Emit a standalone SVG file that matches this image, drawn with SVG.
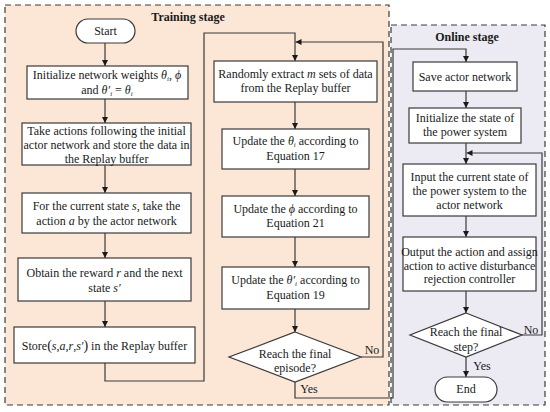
<svg xmlns="http://www.w3.org/2000/svg" width="550" height="412" viewBox="0 0 550 412">
<style>
text{font-family:"Liberation Serif","Times New Roman",serif;font-size:12px;fill:#1a1a1a;text-anchor:middle}
.t{font-weight:bold}
.i{font-style:italic}
.s{font-style:italic;font-size:7px}
.box{fill:#fff;stroke:#3a3a3a;stroke-width:1.2}
.c{fill:none;stroke:#3a3a3a;stroke-width:1.2}
.a{marker-end:url(#ah)}
</style>
<defs>
<marker id="ah" viewBox="0 0 10 10" refX="10" refY="5" markerWidth="6" markerHeight="6" markerUnits="userSpaceOnUse" orient="auto">
<path d="M0,0 L10,5 L0,10 z" fill="#1a1a1a"/>
</marker>
</defs>
<g id="stages">
<rect x="5" y="5" width="384" height="400" fill="#fce6d6" stroke="#3a3a3a" stroke-width="1.2" stroke-dasharray="6,4"/>
<rect x="391" y="25" width="154" height="380" fill="#eceaf2" stroke="#3a3a3a" stroke-width="1.2" stroke-dasharray="6,4"/>
<text class="t" x="188" y="21">Training stage</text>
<text class="t" x="467" y="41">Online stage</text>
</g>
<g id="connectors">
<path class="c a" d="M105,43 V66"/>
<path class="c a" d="M105,99 V123"/>
<path class="c a" d="M105,165 V193"/>
<path class="c a" d="M105,233 V258"/>
<path class="c a" d="M105,301 V327"/>
<path class="c a" d="M105,363 V381 H204 V33 H295 V61"/>
<path class="c a" d="M295,102 V129"/>
<path class="c a" d="M295,169 V196"/>
<path class="c a" d="M295,237 V267"/>
<path class="c a" d="M295,309 V332"/>
<path class="c a" d="M361,357 H383 V42 H295.5"/>
<path class="c a" d="M295,382 V398 H393 V49 H466 V62"/>
<path class="c a" d="M466,91 V108"/>
<path class="c a" d="M466,143 V164"/>
<path class="c a" d="M466,216 V237"/>
<path class="c a" d="M466,291 V313"/>
<path class="c a" d="M522,335 H542 V153 H466.5"/>
<path class="c a" d="M466,357 V377"/>
<text x="372" y="354">No</text>
<text x="309" y="393">Yes</text>
<text x="531" y="334">No</text>
<text x="482" y="370">Yes</text>
</g>
<g id="start">
<rect class="box" x="76" y="19" width="59" height="24" rx="12"/>
<text x="105.5" y="35">Start</text>
</g>
<g id="init-weights">
<rect class="box" x="27" y="66" width="161" height="33"/>
<text x="107" y="79">Initialize network weights <tspan class="i">θ</tspan><tspan class="s" dy="2">i</tspan><tspan dy="-2">, </tspan><tspan class="i">ϕ</tspan></text>
<text x="107" y="94">and <tspan class="i">θ′</tspan><tspan class="s" dy="2">i</tspan><tspan dy="-2"> = </tspan><tspan class="i">θ</tspan><tspan class="s" dy="2">i</tspan></text>
</g>
<g id="take-actions">
<rect class="box" x="22" y="123" width="169" height="42"/>
<text x="106.5" y="135">Take actions following the initial</text>
<text x="106.5" y="149">actor network and store the data in</text>
<text x="106.5" y="162.5">the Replay buffer</text>
</g>
<g id="current-state">
<rect class="box" x="22" y="193" width="169" height="40"/>
<text x="106.5" y="210">For the current state  <tspan class="i">s</tspan>, take the</text>
<text x="106.5" y="225">action <tspan class="i">a</tspan> by the actor network</text>
</g>
<g id="reward">
<rect class="box" x="18" y="258" width="173" height="43"/>
<text x="104.5" y="277">Obtain the reward  <tspan class="i">r</tspan>  and the next</text>
<text x="104.5" y="292">state  <tspan class="i">s′</tspan></text>
</g>
<g id="store">
<rect class="box" x="14" y="327" width="181" height="36"/>
<text x="104.5" y="350">Store<tspan font-size="14">(</tspan><tspan class="i">s</tspan>,<tspan class="i">a</tspan>,<tspan class="i">r</tspan>,<tspan class="i">s′</tspan><tspan font-size="14">)</tspan>  in the Replay buffer</text>
</g>
<g id="extract">
<rect class="box" x="214" y="61" width="163" height="41"/>
<text x="295.5" y="78">Randomly extract <tspan class="i">m</tspan> sets of data</text>
<text x="295.5" y="92">from the Replay buffer</text>
</g>
<g id="update-theta">
<rect class="box" x="222" y="129" width="147" height="40"/>
<text x="295.5" y="145">Update the <tspan class="i">θ</tspan><tspan class="s" dy="2">i</tspan><tspan dy="-2">  according to</tspan></text>
<text x="295.5" y="160">Equation 17</text>
</g>
<g id="update-phi">
<rect class="box" x="222" y="196" width="147" height="41"/>
<text x="295.5" y="213">Update the <tspan class="i">ϕ</tspan>  according to</text>
<text x="295.5" y="227">Equation 21</text>
</g>
<g id="update-theta-prime">
<rect class="box" x="222" y="267" width="147" height="42"/>
<text x="295.5" y="284">Update the <tspan class="i">θ′</tspan><tspan class="s" dy="2">i</tspan><tspan dy="-2">  according to</tspan></text>
<text x="295.5" y="299">Equation 19</text>
</g>
<g id="final-episode">
<path class="box" d="M295,332 L361,357 L295,382 L229,357 Z"/>
<text x="295" y="358">Reach the final</text>
<text x="295" y="372">episode?</text>
</g>
<g id="save">
<rect class="box" x="413" y="62" width="104" height="29"/>
<text x="465" y="81">Save actor network</text>
</g>
<g id="init-state">
<rect class="box" x="409" y="108" width="112" height="35"/>
<text x="465" y="122">Initialize the state of</text>
<text x="465" y="136">the power system</text>
</g>
<g id="input">
<rect class="box" x="403" y="164" width="133" height="52"/>
<text x="469.5" y="181">Input the current state of</text>
<text x="469.5" y="195">the power system to the</text>
<text x="469.5" y="208.5">actor network</text>
</g>
<g id="output">
<rect class="box" x="403" y="237" width="133" height="54"/>
<text x="469.5" y="256">Output the action and assign</text>
<text x="469.5" y="269.5">action to active disturbance</text>
<text x="469.5" y="283">rejection controller</text>
</g>
<g id="final-step">
<path class="box" d="M466,313 L522,335 L466,357 L410,335 Z"/>
<text x="466" y="336">Reach the final</text>
<text x="466" y="351">step?</text>
</g>
<g id="end">
<rect class="box" x="435" y="377" width="62" height="25" rx="12.5"/>
<text x="466" y="393">End</text>
</g>
</svg>
